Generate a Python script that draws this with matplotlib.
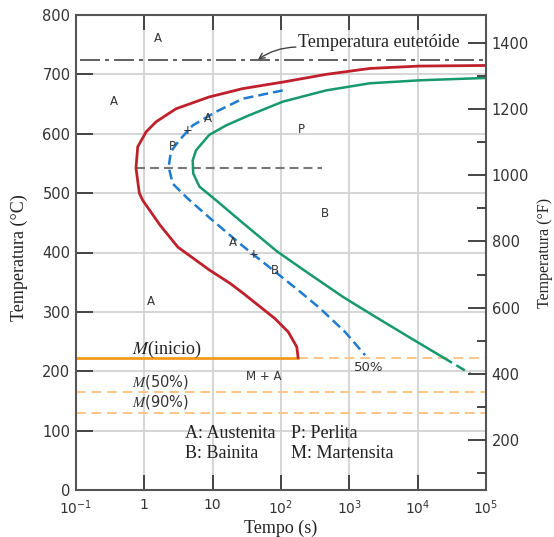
import numpy as np
import matplotlib
matplotlib.use("Agg")
import matplotlib.pyplot as plt
from matplotlib.ticker import NullLocator, FixedLocator

plt.rcParams['font.family'] = ['DejaVu Sans']

#%% DATA
# inicio da transformacao (curva vermelha)
red_t = [100000, 10700, 2000, 457, 106, 27.5, 8.9, 2.9, 1.48, 1.06, 0.80, 0.755,
         0.845, 0.946, 1.7, 3.1, 9.1, 18, 28.2, 81, 128, 170, 178]
red_T = [715, 714, 710, 700, 687, 676, 662, 642, 620, 603, 578, 542,
         500, 488, 446, 409, 370, 348, 331, 289, 266, 241, 223]

# 50% (curva azul tracejada)
blue_t = [106, 27.5, 11.2, 5.1, 3.25, 2.45, 2.27, 2.6, 4.3, 9.1, 25, 40, 102, 190, 372, 870, 1700]
blue_T = [673, 659, 637, 614, 589, 570, 544, 516, 491, 458, 415, 396, 359, 334, 306, 266, 227]

# fim da transformacao (curva verde)
green_t = [100000, 10700, 2000, 457, 106, 34, 15.7, 8.9, 5.7, 5.1, 5.2, 6.4, 11.2,
           25, 87, 238, 813, 2380, 8130, 23800]
green_T = [694, 690, 685, 673, 654, 631, 614, 598, 572, 555, 533, 511, 488,
           454, 402, 367, 325, 292, 255, 223]
green_dash_t = [23800, 58900]
green_dash_T = [223, 196]

T_eutectoid = 725
T_nose = 543
M_levels = [223, 165, 130]   # M inicio, M 50%, M 90%

x_ticks = [0.1, 1, 10, 100, 1000, 10000, 100000]
x_labels = ['$10^{-1}$', '1', '10', '$10^{2}$', '$10^{3}$', '$10^{4}$', '$10^{5}$']
yC_ticks = list(range(0, 801, 100))
yF_major = list(range(200, 1401, 200))
yF_minor = list(range(100, 1400, 200))

#%% FIGURE
fig = plt.figure(figsize=(5.54, 5.37), dpi=100)
ax = fig.add_axes([76/554, 47/537, 410/554, 475/537])

ax.set_xscale('log')
ax.set_xlim(0.1, 1e5)
ax.set_ylim(0, 800)
ax.set_xticks(x_ticks)
ax.set_xticklabels(x_labels)
ax.xaxis.set_minor_locator(NullLocator())
ax.set_yticks(yC_ticks)
ax.grid(True, color='#d2d2d2', lw=1.3)
ax.set_axisbelow(True)

ax.tick_params(axis='x', direction='in', length=11, width=1.4, color='#444',
               top=True, bottom=True, labelsize=10, labelcolor='#333', pad=6)
ax.tick_params(axis='y', direction='in', length=12, width=1.4, color='#444',
               left=True, right=False, labelsize=10.5, labelcolor='#333', pad=4)
for s in ax.spines.values():
    s.set_linewidth(1.5)
    s.set_color('#555')

serif = 'Liberation Serif'
ax.set_xlabel('Tempo (s)', family=serif, fontsize=13, color='#222', labelpad=2)
ax.set_ylabel('Temperatura (°C)', family=serif, fontsize=13, color='#222')
ax.yaxis.set_label_coords(-0.118, 0.49)

# eixo em Fahrenheit
ax2 = ax.twinx()
ax2.set_ylim(49, 1484)
ax2.yaxis.set_major_locator(FixedLocator(yF_major))
ax2.yaxis.set_minor_locator(FixedLocator(yF_minor))
ax2.tick_params(axis='y', which='major', direction='in', length=13, width=1.4,
                color='#444', labelsize=10.5, labelcolor='#333', pad=4)
ax2.tick_params(axis='y', which='minor', direction='in', length=6.5, width=1.4, color='#444')
for s in ax2.spines.values():
    s.set_visible(False)
ax2.set_ylabel('Temperatura (°F)', family=serif, fontsize=11.5, color='#222')
ax2.yaxis.set_label_coords(1.125, 0.5)

#%% LINES
ax.plot([0.115, 1e5], [T_eutectoid, T_eutectoid], color='#444', lw=1.2,
        dashes=(12, 3, 2.4, 3))
ax.plot([0.755, 400], [T_nose, T_nose], color='#777', lw=1.5, dashes=(4.3, 2.4))

ax.plot([0.1, red_t[-1]], [M_levels[0], M_levels[0]], color='#f39a1e', lw=2)
ax.plot([red_t[-1], 1e5], [M_levels[0], M_levels[0]], color='#fcc588', lw=1.4, dashes=(5, 3))
ax.plot([0.1, 1e5], [M_levels[1], M_levels[1]], color='#fcc588', lw=1.4, dashes=(5, 3))
ax.plot([0.1, 1e5], [M_levels[2], M_levels[2]], color='#fcc588', lw=1.4, dashes=(5, 3))

ax.plot(red_t, red_T, color='#c0202c', lw=2)
ax.plot(blue_t, blue_T, color='#1f7bd0', lw=1.8, dashes=(4, 2))
ax.plot(green_t, green_T, color='#16996b', lw=1.8)
ax.plot(green_dash_t, green_dash_T, color='#16996b', lw=1.8, dashes=(4, 2))

#%% TEXT
lab = dict(fontsize=8.5, color='#333', ha='center', va='center')
ax.text(1.58, 761, 'A', **lab)
ax.text(0.36, 654, 'A', **lab)
ax.text(8.45, 626, 'A', **lab)
ax.text(4.3, 606, '+', **lab)
ax.text(2.6, 579, 'P', **lab)
ax.text(196, 607, 'P', **lab)
ax.text(440, 466, 'B', **lab)
ax.text(19.6, 416, 'A', **lab)
ax.text(40, 396, '+', **lab)
ax.text(82, 370, 'B', **lab)
ax.text(1.25, 317, 'A', **lab)
ax.text(55, 191, 'M + A', **lab)
ax.text(1940, 207, '50%', fontsize=9.5, color='#333', ha='center', va='center')

ax.text(0.66, 236, '$M$(inicio)', family=serif, math_fontfamily='stix',
        fontsize=13, color='#222', ha='left', va='center')
ax.text(0.66, 182, '$M$(50%)', math_fontfamily='stix',
        fontsize=10.5, color='#333', ha='left', va='center')
ax.text(0.66, 148, '$M$(90%)', math_fontfamily='stix',
        fontsize=10.5, color='#333', ha='left', va='center')

leg = dict(family=serif, fontsize=13, color='#222', ha='left', va='center')
ax.text(3.94, 96, 'A: Austenita', **leg)
ax.text(3.94, 62, 'B: Bainita', **leg)
ax.text(140, 96, 'P: Perlita', **leg)
ax.text(140, 62, 'M: Martensita', **leg)

ax.text(177, 754, 'Temperatura eutetóide', **leg)
ax.annotate('', xy=(46, T_eutectoid), xytext=(165, 746),
            arrowprops=dict(arrowstyle='->', color='#444', lw=1,
                            connectionstyle='arc3,rad=0.15', shrinkA=0, shrinkB=0))

fig.savefig('out.png', dpi=100)
